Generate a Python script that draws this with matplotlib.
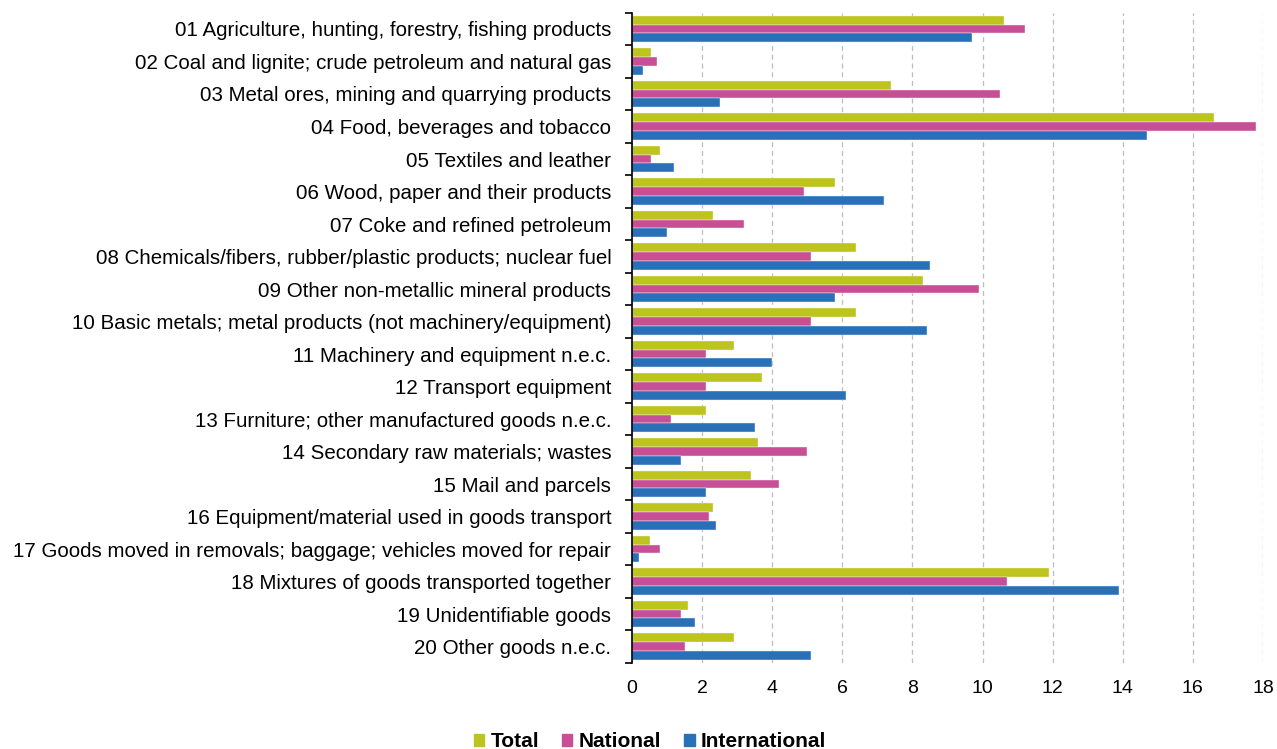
import matplotlib
matplotlib.use("Agg")
import matplotlib.pyplot as plt
import numpy as np

plt.rcParams['font.family'] = ['Liberation Sans', 'DejaVu Sans']

categories = [
    "01 Agriculture, hunting, forestry, fishing products",
    "02 Coal and lignite; crude petroleum and natural gas",
    "03 Metal ores, mining and quarrying products",
    "04 Food, beverages and tobacco",
    "05 Textiles and leather",
    "06 Wood, paper and their products",
    "07 Coke and refined petroleum",
    "08 Chemicals/fibers, rubber/plastic products; nuclear fuel",
    "09 Other non-metallic mineral products",
    "10 Basic metals; metal products (not machinery/equipment)",
    "11 Machinery and equipment n.e.c.",
    "12 Transport equipment",
    "13 Furniture; other manufactured goods n.e.c.",
    "14 Secondary raw materials; wastes",
    "15 Mail and parcels",
    "16 Equipment/material used in goods transport",
    "17 Goods moved in removals; baggage; vehicles moved for repair",
    "18 Mixtures of goods transported together",
    "19 Unidentifiable goods",
    "20 Other goods n.e.c.",
]

total = [10.6, 0.55, 7.4, 16.6, 0.8, 5.8, 2.3, 6.4, 8.3, 6.4,
         2.9, 3.7, 2.1, 3.6, 3.4, 2.3, 0.5, 11.9, 1.6, 2.9]
national = [11.2, 0.7, 10.5, 17.8, 0.55, 4.9, 3.2, 5.1, 9.9, 5.1,
            2.1, 2.1, 1.1, 5.0, 4.2, 2.2, 0.8, 10.7, 1.4, 1.5]
international = [9.7, 0.3, 2.5, 14.7, 1.2, 7.2, 1.0, 8.5, 5.8, 8.4,
                 4.0, 6.1, 3.5, 1.4, 2.1, 2.4, 0.2, 13.9, 1.8, 5.1]

series = [("Total", total, "#BDC41D"),
          ("National", national, "#C84F96"),
          ("International", international, "#2A70B8")]

fig = plt.figure(figsize=(12.77, 7.49), dpi=100)
ax = fig.add_axes([0.495, 0.115, 0.494, 0.868])

n = len(categories)
y = np.arange(n)
h = 0.27
for i, (name, vals, col) in enumerate(series):
    ax.barh(y + (i - 1) * h, vals, height=h, color=col, edgecolor="#f4f4f4",
            linewidth=0.3, label=name, zorder=3)

ax.set_ylim(n - 0.5, -0.5)
ax.set_xlim(0, 18)
ax.set_xticks(np.arange(0, 19, 2))
ax.set_xticklabels([str(v) for v in range(0, 19, 2)], fontsize=14)

ax.set_yticks(y)
ax.set_yticklabels(categories, fontsize=14.8)
ax.set_yticks(np.arange(-0.5, n, 1), minor=True)
ax.tick_params(axis='y', which='major', length=0, pad=15)
ax.tick_params(axis='y', which='minor', length=5, width=1.2, direction='out')
ax.tick_params(axis='x', length=0, pad=12)

ax.grid(axis='x', linestyle=(0, (4, 3)), color="#BDBDBD", linewidth=0.9, zorder=0)
for s in ["top", "right", "bottom"]:
    ax.spines[s].set_visible(False)
ax.spines["left"].set_linewidth(1.2)
ax.spines["left"].set_zorder(4)

handles = [plt.Rectangle((0, 0), 1, 1, color=c) for _, _, c in series]
fig.legend(handles, [s[0] for s in series], loc="lower center",
           bbox_to_anchor=(0.509, -0.028), ncol=3, frameon=False,
           prop={'weight': 'bold', 'size': 15}, handlelength=0.5,
           handleheight=0.5, handletextpad=0.3, columnspacing=1.1)

fig.savefig("out.png", dpi=100)
